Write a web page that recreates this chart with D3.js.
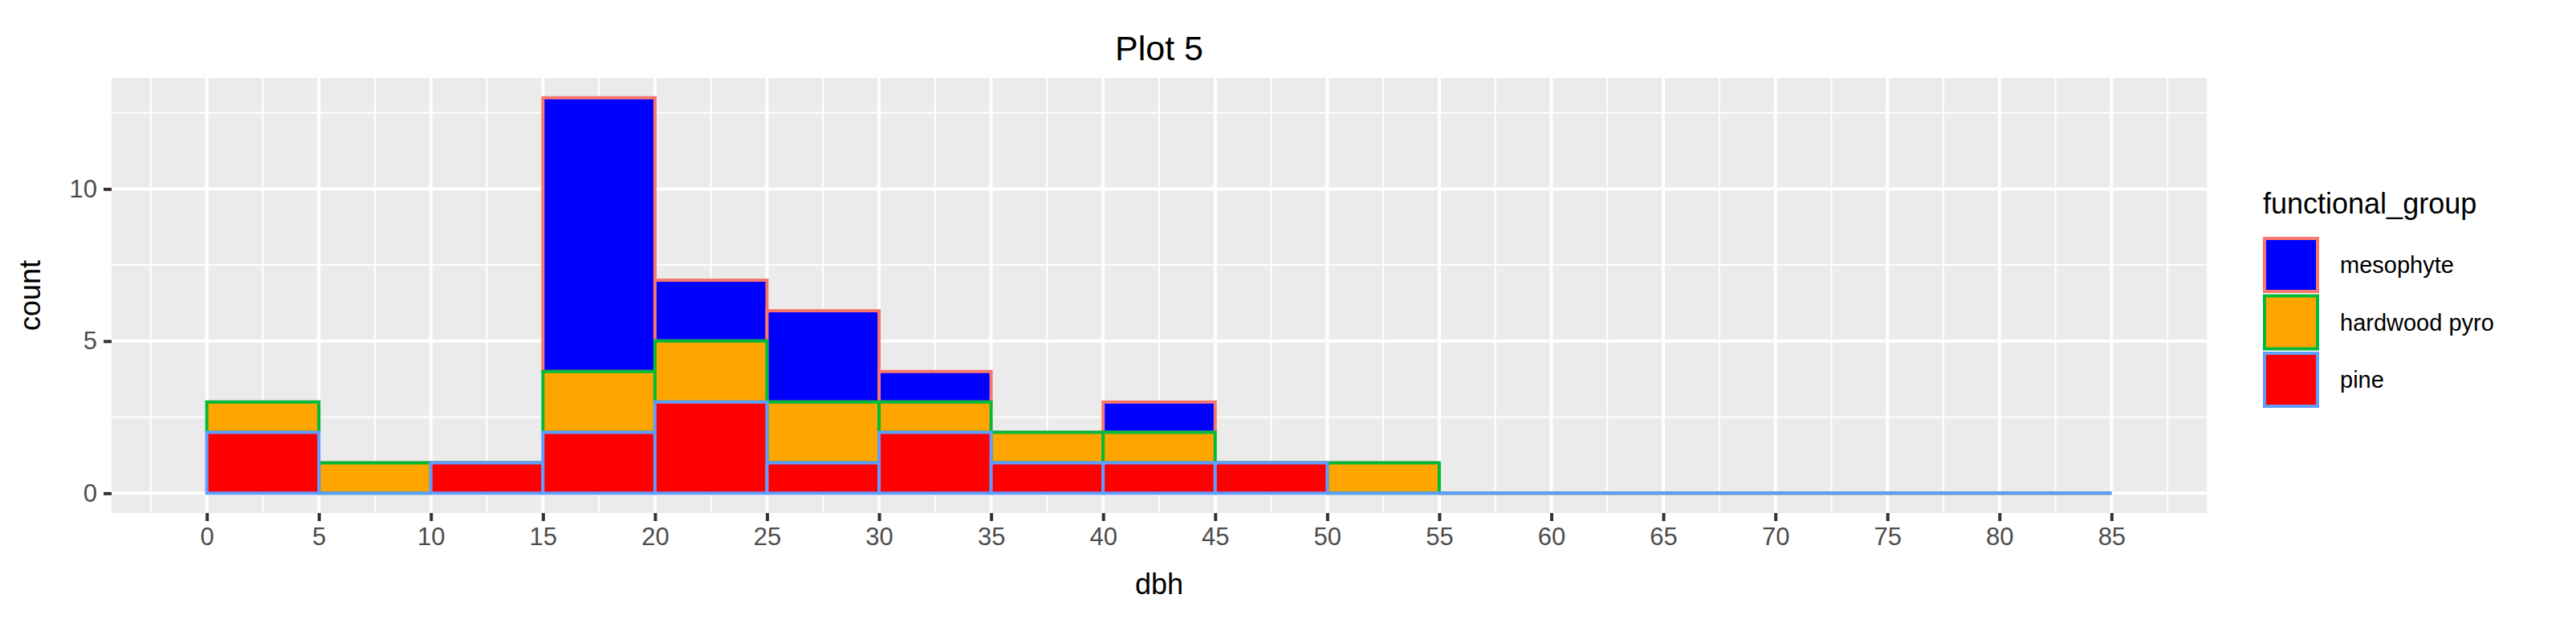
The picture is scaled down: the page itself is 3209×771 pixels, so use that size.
<!DOCTYPE html>
<html><head><meta charset="utf-8">
<script src="https://cdn.jsdelivr.net/npm/d3@7"></script>
<style>body{margin:0;background:#fff}text{font-family:Arial,"Liberation Sans",sans-serif}</style>
</head><body><svg id="chart" width="3209" height="771"></svg>
<script>
const binStarts = [0,5,10,15,20,25,30,35,40,45,50,55,60,65,70,75,80];
const pine =      [2,0,1,2,3,1,2,1,1,1,0,0,0,0,0,0,0];
const hardwood =  [1,1,0,2,2,2,1,1,1,0,1,0,0,0,0,0,0];
const mesophyte = [0,0,0,9,2,3,1,0,1,0,0,0,0,0,0,0,0];
const xTicks = d3.range(0, 90, 5);
const yTicks = [0, 5, 10];
const groups = [
  { name: "mesophyte", fill: "#0000FF", stroke: "#F8766D", values: mesophyte },
  { name: "hardwood pyro", fill: "#FFA500", stroke: "#00BA38", values: hardwood },
  { name: "pine", fill: "#FF0000", stroke: "#619CFF", values: pine }
];

const panel = { left: 139, top: 97, right: 2749, bottom: 639 };
const svg = d3.select("#chart");
const x = d3.scaleLinear().domain([-4.25, 89.25]).range([panel.left, panel.right]);
const y = d3.scaleLinear().domain([-0.65, 13.65]).range([panel.bottom, panel.top]);

svg.append("rect").attr("x", panel.left).attr("y", panel.top)
  .attr("width", panel.right - panel.left).attr("height", panel.bottom - panel.top)
  .attr("fill", "#EBEBEB");

const g = svg.append("g");
// minor grid
for (let i = -2.5; i < 90; i += 5) g.append("line").attr("x1", x(i)).attr("x2", x(i))
  .attr("y1", panel.top).attr("y2", panel.bottom).attr("stroke", "#fff").attr("stroke-width", 2);
[2.5, 7.5, 12.5].forEach(v => g.append("line").attr("y1", y(v)).attr("y2", y(v))
  .attr("x1", panel.left).attr("x2", panel.right).attr("stroke", "#fff").attr("stroke-width", 2));
// major grid
xTicks.forEach(v => g.append("line").attr("x1", x(v)).attr("x2", x(v))
  .attr("y1", panel.top).attr("y2", panel.bottom).attr("stroke", "#fff").attr("stroke-width", 4));
yTicks.forEach(v => g.append("line").attr("y1", y(v)).attr("y2", y(v))
  .attr("x1", panel.left).attr("x2", panel.right).attr("stroke", "#fff").attr("stroke-width", 4));

// stacked bars: pine bottom, hardwood, mesophyte on top
const stackOrder = [groups[2], groups[1], groups[0]];
const base = binStarts.map(() => 0);
const rects = [];
stackOrder.forEach(grp => {
  binStarts.forEach((b, i) => {
    rects.push({ grp, x0: b, y0: base[i], y1: base[i] + grp.values[i] });
    base[i] += grp.values[i];
  });
});
// paths so zero-height bins still draw their outline
const barPath = d => {
  const x0 = x(d.x0), x1 = x(d.x0 + 5), y0 = y(d.y0), y1 = y(d.y1);
  return `M${x0},${y0}L${x1},${y0}L${x1},${y1}L${x0},${y1}Z`;
};
groups.forEach(grp => {
  g.selectAll(null).data(rects.filter(r => r.grp === grp)).join("path")
    .attr("d", barPath)
    .attr("fill", grp.fill).attr("stroke", grp.stroke).attr("stroke-width", 4);
});

// axes
const xAxis = svg.append("g").attr("transform", `translate(0,${panel.bottom})`)
  .call(d3.axisBottom(x).tickValues(xTicks).tickSize(10).tickPadding(8));
const yAxis = svg.append("g").attr("transform", `translate(${panel.left},0)`)
  .call(d3.axisLeft(y).tickValues(yTicks).tickSize(10).tickPadding(8));
[xAxis, yAxis].forEach(a => {
  a.select(".domain").remove();
  a.selectAll(".tick line").attr("stroke", "#333").attr("stroke-width", 4);
  a.selectAll(".tick text").attr("fill", "#4D4D4D").attr("font-size", 31).attr("font-family", "Arial, Liberation Sans");
});

svg.append("text").attr("x", (panel.left + panel.right) / 2).attr("y", 740)
  .attr("text-anchor", "middle").attr("font-size", 36).text("dbh");
svg.append("text").attr("transform", `translate(50,${(panel.top + panel.bottom) / 2}) rotate(-90)`)
  .attr("text-anchor", "middle").attr("font-size", 36).text("count");
svg.append("text").attr("x", (panel.left + panel.right) / 2).attr("y", 75)
  .attr("text-anchor", "middle").attr("font-size", 43).text("Plot 5");

// legend
const lg = svg.append("g");
lg.append("text").attr("x", 2819).attr("y", 266).attr("font-size", 36).text("functional_group");
groups.forEach((grp, i) => {
  const ty = 295 + i * 71.5;
  lg.append("rect").attr("x", 2821).attr("y", ty + 2).attr("width", 66).attr("height", 66)
    .attr("fill", grp.fill).attr("stroke", grp.stroke).attr("stroke-width", 4);
  lg.append("text").attr("x", 2915).attr("y", ty + 45).attr("font-size", 29).text(grp.name);
});
</script></body></html>
